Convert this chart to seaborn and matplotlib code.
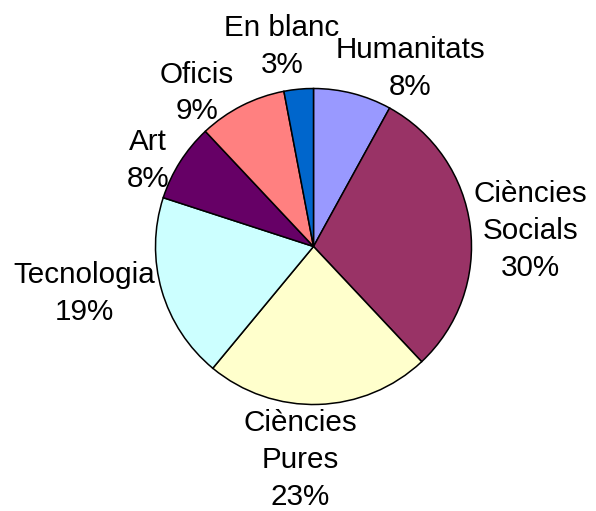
import numpy as np
import matplotlib
matplotlib.use("Agg")
import matplotlib.pyplot as plt
import seaborn as sns

# ---- data ----
categories = ["Humanitats", "Ciències\nSocials", "Ciències\nPures", "Tecnologia", "Art", "Oficis", "En blanc"]
values = [8, 30, 23, 19, 8, 9, 3]
colors = ["#9999FF", "#993366", "#FFFFCC", "#CCFFFF", "#660066", "#FF8080", "#0066CC"]

# ---- layout: label placement (distance in radii, angle clockwise from top in degrees) ----
label_dist = [1.28, 1.375, 1.355, 1.48, 1.18, 1.22, 1.28]
label_ang = [28.5, 85.9, 183.6, 258.5, 297.6, 322.8, 351]

sns.set_theme(style="white")
plt.rcParams["font.family"] = ["Liberation Sans", "DejaVu Sans"]

W, H = 596, 511
fig = plt.figure(figsize=(W / 100, H / 100), dpi=100)
ax = fig.add_axes([0, 0, 1, 1])

wedges, _ = ax.pie(values, colors=colors, startangle=90, counterclock=False,
                   wedgeprops=dict(edgecolor="black", linewidth=1.1),
                   radius=1.0, center=(0, 0))

total = sum(values)
for cat, v, d, a in zip(categories, values, label_dist, label_ang):
    t = np.deg2rad(a)
    ax.text(d * np.sin(t), d * np.cos(t), f"{cat}\n{round(100 * v / total)}%",
            ha="center", va="center", fontsize=21.3, linespacing=1.4, color="black")

R = 158.0
cx, cy = 313.5, 246.5
ax.set_xlim(-cx / R, (W - cx) / R)
ax.set_ylim(-(H - cy) / R, cy / R)
ax.set_aspect("auto")
ax.axis("off")

fig.savefig("out.png", dpi=100, facecolor="white")
